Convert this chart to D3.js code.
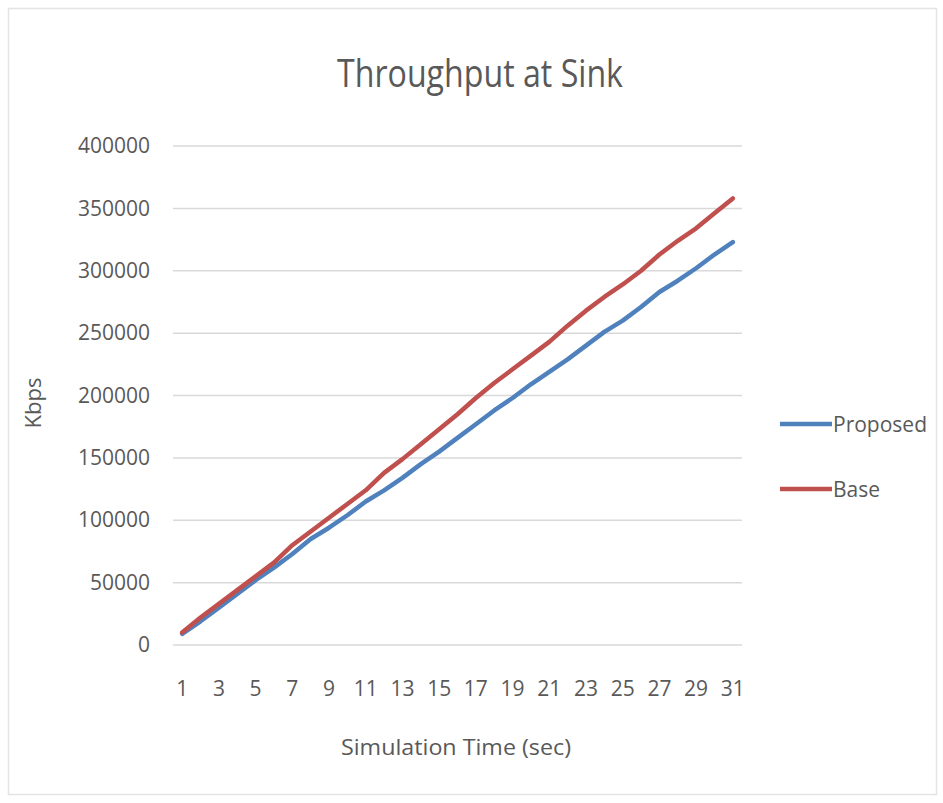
<!DOCTYPE html>
<html>
<head>
<meta charset="utf-8">
<script src="https://cdn.jsdelivr.net/npm/d3@7/dist/d3.min.js"></script>
<style>
  html, body { margin: 0; padding: 0; background: #ffffff; }
  svg { display: block; }
  text { font-family: "Open Sans", "Noto Sans", sans-serif; fill: #595959; }
</style>
</head>
<body>
<svg id="chart" width="943" height="803"></svg>
<script>
// Simulation time (sec)
const times = d3.range(1, 32);
// Throughput at the sink, Kbps
const proposed = [9000, 19000, 30000, 41000, 52000, 62000, 73000, 85000, 94000, 104000,
  115000, 124000, 134000, 145000, 155000, 166000, 177000, 188000, 198000, 209000,
  219000, 229000, 240000, 251000, 260000, 271000, 283000, 292000, 302000, 313000, 323000];
const base = [10000, 22000, 33000, 44000, 55000, 66000, 80000, 91000, 102000, 113000,
  124000, 138000, 149000, 161000, 173000, 185000, 198000, 210000, 221000, 232000,
  243000, 256000, 268000, 279000, 289000, 300000, 313000, 324000, 334000, 346000, 358000];
const yTicks = [0, 50000, 100000, 150000, 200000, 250000, 300000, 350000, 400000];
const xTickLabels = times.filter(t => t % 2 === 1);
const series = [
  { name: "Proposed", values: proposed, color: "#4F81BD" },
  { name: "Base", values: base, color: "#C0504D" }
];

const svg = d3.select("#chart");
const plot = { left: 173, right: 742, top: 146, bottom: 645 };

// chart frame
svg.append("rect")
  .attr("x", 8.5).attr("y", 8.5).attr("width", 928).attr("height", 786)
  .attr("fill", "none").attr("stroke", "#e4e4e4").attr("stroke-width", 1.5);

const x = d3.scaleBand().domain(times).range([plot.left, plot.right]);
const y = d3.scaleLinear().domain([0, 400000]).range([plot.bottom, plot.top]);

// horizontal gridlines
svg.append("g").selectAll("line").data(yTicks).join("line")
  .attr("x1", plot.left).attr("x2", plot.right)
  .attr("y1", d => y(d)).attr("y2", d => y(d))
  .attr("stroke", "#d9d9d9").attr("stroke-width", 1.5);

// y axis labels
const yAxis = d3.axisLeft(y).tickValues(yTicks).tickSize(0).tickPadding(0).tickFormat(d3.format("d"));
const gy = svg.append("g").attr("transform", `translate(${plot.left - 23},0)`).call(yAxis);
gy.select(".domain").remove();
gy.selectAll("text").attr("font-size", 21).style("font-family", null).attr("fill", "#595959");

// x axis labels
const xAxis = d3.axisBottom(x).tickValues(xTickLabels).tickSize(0).tickPadding(0);
const gx = svg.append("g").attr("transform", `translate(0,${plot.bottom + 36})`).call(xAxis);
gx.select(".domain").remove();
gx.selectAll("text").attr("font-size", 21).style("font-family", null).attr("fill", "#595959");

// lines
const line = d3.line()
  .x((d, i) => x(times[i]) + x.bandwidth() / 2)
  .y(d => y(d));
svg.append("g").selectAll("path").data(series).join("path")
  .attr("d", s => line(s.values))
  .attr("fill", "none")
  .attr("stroke", s => s.color)
  .attr("stroke-width", 4.5)
  .attr("stroke-linejoin", "round")
  .attr("stroke-linecap", "round");

// title
svg.append("text")
  .attr("x", 480).attr("y", 87)
  .attr("text-anchor", "middle")
  .attr("font-size", 38)
  .attr("textLength", 286)
  .attr("lengthAdjust", "spacingAndGlyphs")
  .text("Throughput at Sink");

// axis titles
svg.append("text")
  .attr("transform", "translate(41,403) rotate(-90)")
  .attr("text-anchor", "middle")
  .attr("font-size", 22)
  .text("Kbps");
svg.append("text")
  .attr("x", 456).attr("y", 755)
  .attr("text-anchor", "middle")
  .attr("font-size", 22)
  .attr("textLength", 230)
  .attr("lengthAdjust", "spacingAndGlyphs")
  .text("Simulation Time (sec)");

// legend
const legend = svg.append("g").selectAll("g").data(series).join("g")
  .attr("transform", (d, i) => `translate(780,${424 + i * 65})`);
legend.append("line")
  .attr("x1", 0).attr("x2", 52).attr("y1", 0).attr("y2", 0)
  .attr("stroke", d => d.color).attr("stroke-width", 4.5);
legend.append("text")
  .attr("x", 53).attr("y", 8)
  .attr("font-size", 21)
  .text(d => d.name);
</script>
</body>
</html>
